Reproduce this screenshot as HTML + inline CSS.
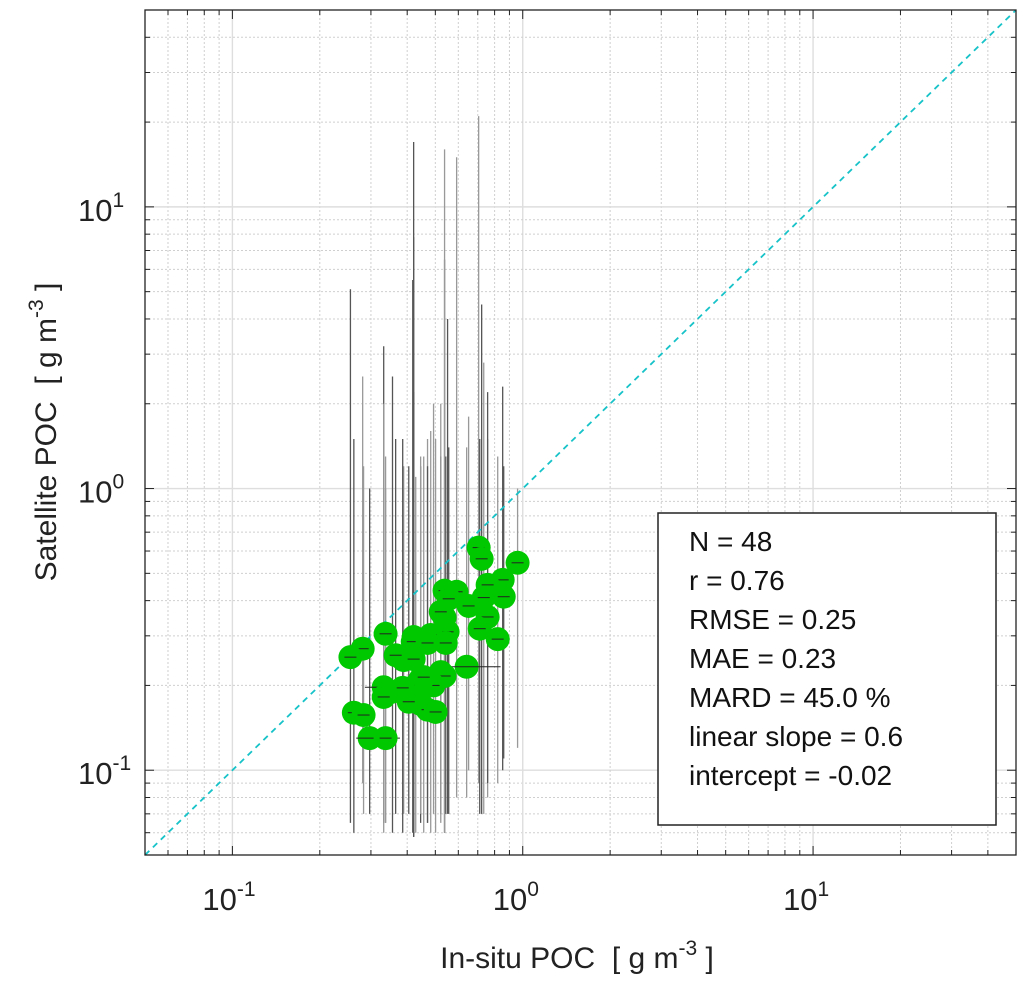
<!DOCTYPE html>
<html><head><meta charset="utf-8"><style>
body{margin:0;background:#fff;width:1027px;height:984px;overflow:hidden}
svg{font-family:"Liberation Sans",Arial,sans-serif}
</style></head><body>
<svg id="chart" width="1027" height="984" viewBox="0 0 1027 984" xmlns="http://www.w3.org/2000/svg">
<rect width="1027" height="984" fill="#fff"/>
<g id="grid"></g>
<g id="errs"></g>
<line id="oneone" stroke="#17c3c8" stroke-width="1.8" stroke-dasharray="6,5"/>
<g id="pts"></g>
<rect x="145" y="10" width="871" height="845" fill="none" stroke="#222" stroke-width="1.3"/>
<g id="ticks"></g>
<g id="labels" font-size="31" fill="#222"></g>
<text x="577" y="968" font-size="30" fill="#222" text-anchor="middle" xml:space="preserve">In-situ POC  [ g m<tspan dy="-13" font-size="21">-3</tspan><tspan dy="13"> ]</tspan></text>
<text transform="translate(56,432) rotate(-90)" font-size="30" fill="#222" text-anchor="middle" xml:space="preserve">Satellite POC  [ g m<tspan dy="-13" font-size="21">-3</tspan><tspan dy="13"> ]</tspan></text>
<g>
<rect x="658" y="513" width="338" height="312" fill="#fff" stroke="#222" stroke-width="1.5"/>
<g font-size="28" fill="#111">
<text x="689" y="551">N = 48</text>
<text x="689" y="590">r = 0.76</text>
<text x="689" y="629">RMSE = 0.25</text>
<text x="689" y="668">MAE = 0.23</text>
<text x="689" y="707">MARD = 45.0 %</text>
<text x="689" y="746">linear slope = 0.6</text>
<text x="689" y="785">intercept = -0.02</text>
</g></g>
</svg>
<script>
const xVals=[0.705,0.722,0.96,0.853,0.757,0.86,0.734,0.538,0.592,0.556,0.651,0.757,0.538,0.711,0.82,0.551,0.337,0.421,0.482,0.418,0.47,0.543,0.281,0.255,0.389,0.421,0.641,0.522,0.538,0.445,0.428,0.332,0.493,0.356,0.332,0.421,0.445,0.47,0.501,0.262,0.283,0.297,0.337,0.386,0.456,0.405,0.522,0.365];
const yVals=[0.617,0.563,0.545,0.474,0.455,0.413,0.41,0.434,0.43,0.406,0.383,0.35,0.348,0.318,0.292,0.31,0.305,0.297,0.302,0.286,0.283,0.283,0.27,0.252,0.246,0.248,0.233,0.223,0.216,0.211,0.2,0.197,0.2,0.19,0.182,0.182,0.172,0.164,0.161,0.16,0.157,0.13,0.13,0.196,0.214,0.175,0.365,0.256];
const yLo=[0.09,0.07,0.12,0.1,0.08,0.11,0.07,0.06,0.08,0.07,0.1,0.09,0.06,0.07,0.09,0.07,0.065,0.06,0.06,0.06,0.065,0.07,0.09,0.065,0.07,0.058,0.08,0.07,0.06,0.065,0.06,0.065,0.07,0.06,0.06,0.058,0.07,0.065,0.06,0.06,0.07,0.07,0.065,0.06,0.06,0.07,0.065,0.07];
const yHi=[21,4.5,1.0,2.3,1.5,1.2,2.8,6.5,15,1.4,1.8,2.2,16,1.5,1.3,4.0,1.0,2.2,1.6,5.5,1.5,1.3,2.5,5.1,1.2,17,1.4,1.3,2.0,1.2,1.1,3.2,2.0,2.5,2.0,7.8,1.3,1.2,1.5,1.5,1.2,1.0,1.3,1.5,1.3,1.2,2.0,1.5];
const xLo=[0.705,0.722,0.96,0.853,0.757,0.86,0.734,0.538,0.592,0.556,0.651,0.757,0.538,0.711,0.82,0.551,0.337,0.421,0.482,0.418,0.47,0.543,0.281,0.255,0.389,0.421,0.55,0.522,0.538,0.445,0.428,0.3,0.493,0.33,0.332,0.421,0.445,0.47,0.501,0.262,0.283,0.28,0.337,0.386,0.456,0.405,0.522,0.365];
const xHi=[0.705,0.722,0.96,0.853,0.757,0.86,0.734,0.538,0.592,0.556,0.651,0.757,0.538,0.711,0.82,0.551,0.337,0.421,0.482,0.418,0.47,0.543,0.281,0.255,0.389,0.421,0.8,0.522,0.538,0.445,0.428,0.48,0.493,0.4,0.332,0.421,0.445,0.47,0.501,0.262,0.283,0.36,0.337,0.386,0.456,0.405,0.522,0.365];
const decades=[-1,0,1];
const NS='http://www.w3.org/2000/svg';
const X0=145,X1=1016,Y0=855,Y1=10,LMIN=Math.log10(0.05),LMAX=Math.log10(50);
function sx(v){return X0+(Math.log10(v)-LMIN)/(LMAX-LMIN)*(X1-X0);}
function sy(v){return Y0-(Math.log10(v)-LMIN)/(LMAX-LMIN)*(Y0-Y1);}
function mk(tag,attrs,parent){const e=document.createElementNS(NS,tag);for(const k in attrs)e.setAttribute(k,attrs[k]);parent.appendChild(e);return e;}
const grid=document.getElementById('grid'),ticks=document.getElementById('ticks'),labels=document.getElementById('labels');
for(let d=-2;d<=1;d++){for(let m=1;m<10;m++){const v=m*Math.pow(10,d);if(v<0.05||v>50)continue;
const px=sx(v),py=sy(v);const major=m===1;
const gx=mk('line',{x1:px,x2:px,y1:Y1,y2:Y0,stroke:major?'#dedede':'#cfcfcf','stroke-width':major?1.4:1,'stroke-dasharray':major?'':'2,2'},grid);

const gy=mk('line',{x1:X0,x2:X1,y1:py,y2:py,stroke:major?'#dedede':'#cfcfcf','stroke-width':major?1.4:1,'stroke-dasharray':major?'':'2,2'},grid);

const L=major?9:5;
const t1=mk('line',{x1:px,x2:px,y1:Y0,y2:Y0-L,stroke:'#222','stroke-width':1},ticks);
const t2=mk('line',{x1:px,x2:px,y1:Y1,y2:Y1+L,stroke:'#222','stroke-width':1},ticks);
const t3=mk('line',{x1:X0,x2:X0+L,y1:py,y2:py,stroke:'#222','stroke-width':1},ticks);
const t4=mk('line',{x1:X1,x2:X1-L,y1:py,y2:py,stroke:'#222','stroke-width':1},ticks);
}}
decades.forEach(d=>{const v=Math.pow(10,d);
const tx=mk('text',{x:sx(v)-30,y:910},labels);
tx.innerHTML='10<tspan dy="-14" font-size="21">'+d+'</tspan>';
const ty=mk('text',{x:78,y:sy(v)+14},labels);
ty.innerHTML='10<tspan dy="-14" font-size="21">'+d+'</tspan>';});
const ol=document.getElementById('oneone');
ol.setAttribute('x1',sx(0.05));ol.setAttribute('y1',sy(0.05));ol.setAttribute('x2',sx(50));ol.setAttribute('y2',sy(50));
const errs=document.getElementById('errs'),pts=document.getElementById('pts');
xVals.forEach((x,i)=>{const y=yVals[i];
const ev=mk('line',{x1:sx(x),x2:sx(x),y1:sy(yLo[i]),y2:sy(yHi[i]),stroke:i%2?'#555':'#999','stroke-width':1.3},errs);

const c=mk('circle',{cx:sx(x),cy:sy(y),r:12,fill:'#00c800'},pts);

const eh=mk('line',{x1:sx(xLo[i])-6,x2:sx(xHi[i])+6,y1:sy(y),y2:sy(y),stroke:'#222','stroke-width':1},pts);

});
</script>
</body></html>
